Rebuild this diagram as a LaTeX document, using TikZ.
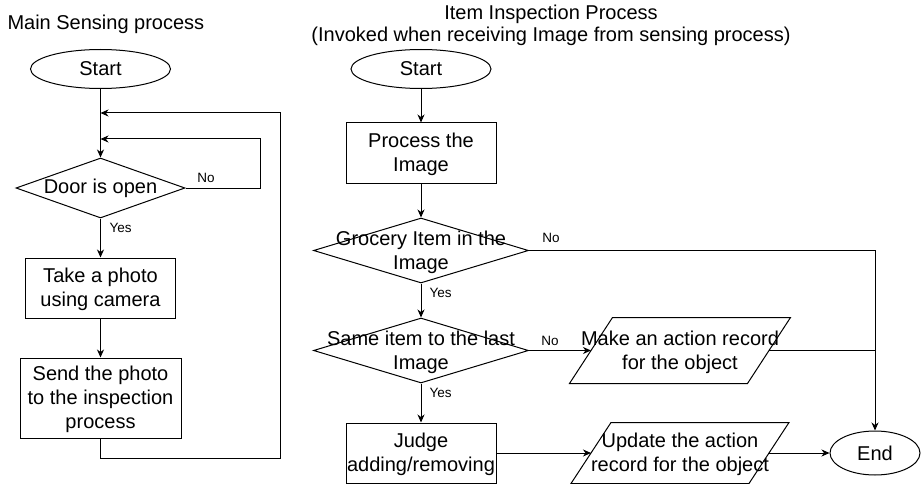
\documentclass[tikz,border=0pt]{standalone}
\usepackage{fontspec}
\setmainfont{Liberation Sans}
\usetikzlibrary{shapes.geometric,arrows.meta}
\begin{document}
\begin{tikzpicture}[x=1pt,y=-1pt, line width=1pt,
  font=\fontsize{20}{24}\selectfont,
  term/.style={ellipse, draw, minimum width=140pt, minimum height=39pt, inner sep=0pt},
  proc/.style={rectangle, draw, minimum width=150pt, minimum height=60pt, inner sep=0pt},
  dec/.style={diamond, draw, inner sep=0pt},
  iobox/.style={rectangle, minimum width=177pt, inner sep=0pt},
  txt/.style={label={[align=center,yshift=-1.5pt]center:#1}},
  lab/.style={font=\fontsize{13.5}{16}\selectfont, inner sep=0pt},
  ttl/.style={inner sep=0pt},
  arr/.style={-{Stealth[length=8pt,width=7pt,inset=2.5pt]}},
]
\useasboundingbox (0,0) rectangle (921,484);

% ---------- titles ----------
\node[ttl, anchor=base west] (t1) at (7,30) {Main Sensing process};
\node[ttl, anchor=base] (t2) at (551,20) {Item Inspection Process};
\node[ttl, anchor=base] (t3) at (551,42) {(Invoked when receiving Image from sensing process)};

% ---------- left process ----------
\node[term] (s1) at (100.5,69) {Start};
\node[dec, minimum width=169pt, minimum height=60pt, label={center:Door is open}] (d1) at (100.5,188) {};
\node[proc, txt={Take a photo\\using camera}] (b1) at (100.5,288) {};
\node[proc, minimum width=161pt, minimum height=80pt, txt={Send the photo\\to the inspection\\process}] (b2) at (100.5,398) {};
\coordinate (j1) at (100.5,113);
\coordinate (j2) at (100.5,139);

\draw[arr] (s1) -- (d1);
\draw[arr] (d1.east) -- ++(75,0) |- (j2);
\draw[arr] (d1) -- (b1);
\draw[arr] (b1) -- (b2);
\draw[arr] (b2.south) -- ++(0,20) -- ++(179.5,0) |- (j1);
\node[lab] (ln1) at (206,178) {No};
\node[lab, anchor=west] (ly1) at (109,228) {Yes};

% ---------- right process ----------
\node[term] (s2) at (421,69) {Start};
\node[proc, txt={Process the\\Image}] (pi) at (421,153) {};
\node[dec, minimum width=215pt, minimum height=65pt, txt={Grocery Item in the\\Image}] (d2) at (421,250.5) {};
\node[dec, minimum width=215pt, minimum height=65pt, txt={Same item to the last\\Image}] (d3) at (421,350.5) {};
\node[proc, txt={Judge\\adding/removing}] (jb) at (421,453) {};
\node[iobox, minimum height=65pt, txt={Make an action record\\for the object}] (p1) at (680,350.5) {};
\node[iobox, minimum height=60pt, txt={Update the action\\record for the object}] (p2) at (680,453) {};
\node[ellipse, draw, minimum width=90pt, minimum height=44pt, inner sep=0pt] (e) at (875,453) {End};

\draw ([xshift=21.5pt]p1.north west) -- ([xshift=21.5pt]p1.north east) -- ([xshift=-21.5pt]p1.south east) -- ([xshift=-21.5pt]p1.south west) -- cycle;
\draw ([xshift=20pt]p2.north west) -- ([xshift=20pt]p2.north east) -- ([xshift=-20pt]p2.south east) -- ([xshift=-20pt]p2.south west) -- cycle;

\draw[arr] (s2) -- (pi);
\draw[arr] (pi) -- (d2);
\draw[arr] (d2) -- (d3);
\draw[arr] (d3) -- (jb);
\draw[arr] (d2.east) -| (e.north);
\draw[arr] (d3.east) -- (p1.west);
\draw (p1.east) -- (p1.east -| e.north);
\draw[arr] (jb.east) -- (p2.west);
\draw[arr] (p2.east) -- (e.west);

\node[lab] (ln2) at (551,238) {No};
\node[lab, anchor=west] (ly2) at (429,293) {Yes};
\node[lab] (ln3) at (550,341) {No};
\node[lab, anchor=west] (ly3) at (429,393) {Yes};
\end{tikzpicture}
\end{document}
